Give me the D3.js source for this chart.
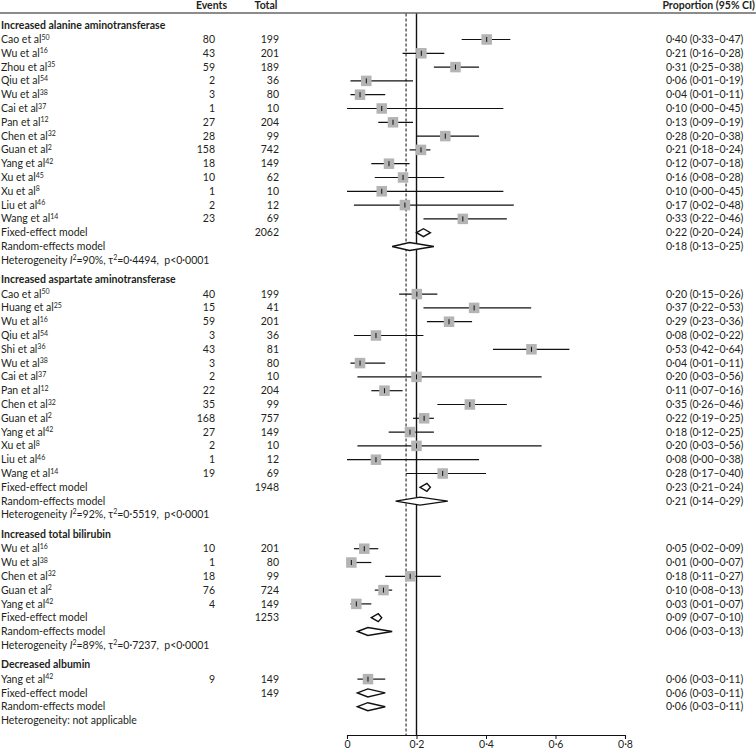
<!DOCTYPE html>
<html><head><meta charset="utf-8">
<script src="https://cdn.jsdelivr.net/npm/d3@7"></script>
<style>
body{margin:0;background:#fff;}
svg text{font-family:Lato,"Open Sans",sans-serif;fill:#231f20;}
</style></head><body>
<svg id="chart" width="756" height="752"></svg>
<script>
// ---------- data ----------
const groupNames = ["Increased alanine aminotransferase","Increased aspartate aminotransferase","Increased total bilirubin","Decreased albumin"];

const altStudies = [
 {study:"Cao et al",ref:"50",events:80,total:199,est:0.40,lo:0.33,hi:0.47},
 {study:"Wu et al",ref:"16",events:43,total:201,est:0.21,lo:0.16,hi:0.28},
 {study:"Zhou et al",ref:"35",events:59,total:189,est:0.31,lo:0.25,hi:0.38},
 {study:"Qiu et al",ref:"54",events:2,total:36,est:0.06,lo:0.01,hi:0.19},
 {study:"Wu et al",ref:"38",events:3,total:80,est:0.04,lo:0.01,hi:0.11},
 {study:"Cai et al",ref:"37",events:1,total:10,est:0.10,lo:0.00,hi:0.45},
 {study:"Pan et al",ref:"12",events:27,total:204,est:0.13,lo:0.09,hi:0.19},
 {study:"Chen et al",ref:"32",events:28,total:99,est:0.28,lo:0.20,hi:0.38},
 {study:"Guan et al",ref:"2",events:158,total:742,est:0.21,lo:0.18,hi:0.24},
 {study:"Yang et al",ref:"42",events:18,total:149,est:0.12,lo:0.07,hi:0.18},
 {study:"Xu et al",ref:"45",events:10,total:62,est:0.16,lo:0.08,hi:0.28},
 {study:"Xu et al",ref:"8",events:1,total:10,est:0.10,lo:0.00,hi:0.45},
 {study:"Liu et al",ref:"46",events:2,total:12,est:0.17,lo:0.02,hi:0.48},
 {study:"Wang et al",ref:"14",events:23,total:69,est:0.33,lo:0.22,hi:0.46}
];
const astStudies = [
 {study:"Cao et al",ref:"50",events:40,total:199,est:0.20,lo:0.15,hi:0.26},
 {study:"Huang et al",ref:"25",events:15,total:41,est:0.37,lo:0.22,hi:0.53},
 {study:"Wu et al",ref:"16",events:59,total:201,est:0.29,lo:0.23,hi:0.36},
 {study:"Qiu et al",ref:"54",events:3,total:36,est:0.08,lo:0.02,hi:0.22},
 {study:"Shi et al",ref:"36",events:43,total:81,est:0.53,lo:0.42,hi:0.64},
 {study:"Wu et al",ref:"38",events:3,total:80,est:0.04,lo:0.01,hi:0.11},
 {study:"Cai et al",ref:"37",events:2,total:10,est:0.20,lo:0.03,hi:0.56},
 {study:"Pan et al",ref:"12",events:22,total:204,est:0.11,lo:0.07,hi:0.16},
 {study:"Chen et al",ref:"32",events:35,total:99,est:0.35,lo:0.26,hi:0.46},
 {study:"Guan et al",ref:"2",events:168,total:757,est:0.22,lo:0.19,hi:0.25},
 {study:"Yang et al",ref:"42",events:27,total:149,est:0.18,lo:0.12,hi:0.25},
 {study:"Xu et al",ref:"8",events:2,total:10,est:0.20,lo:0.03,hi:0.56},
 {study:"Liu et al",ref:"46",events:1,total:12,est:0.08,lo:0.00,hi:0.38},
 {study:"Wang et al",ref:"14",events:19,total:69,est:0.28,lo:0.17,hi:0.40}
];
const tbilStudies = [
 {study:"Wu et al",ref:"16",events:10,total:201,est:0.05,lo:0.02,hi:0.09},
 {study:"Wu et al",ref:"38",events:1,total:80,est:0.01,lo:0.00,hi:0.07},
 {study:"Chen et al",ref:"32",events:18,total:99,est:0.18,lo:0.11,hi:0.27},
 {study:"Guan et al",ref:"2",events:76,total:724,est:0.10,lo:0.08,hi:0.13},
 {study:"Yang et al",ref:"42",events:4,total:149,est:0.03,lo:0.01,hi:0.07}
];
const albStudies = [
 {study:"Yang et al",ref:"42",events:9,total:149,est:0.06,lo:0.03,hi:0.11}
];
const groupStudies = [altStudies, astStudies, tbilStudies, albStudies];

const fixedTotals = [2062, 1948, 1253, 149];
const fixedEst = [[0.22,0.20,0.24],[0.23,0.21,0.24],[0.09,0.07,0.10],[0.06,0.03,0.11]];
const randomEst = [[0.18,0.13,0.25],[0.21,0.14,0.29],[0.06,0.03,0.13],[0.06,0.03,0.11]];
const hetI2 = [90, 92, 89, null];
const hetTau2 = ["0·4494","0·5519","0·7237", null];
const hetP = ["p<0·0001","p<0·0001","p<0·0001", null];

const xTicks = [0, 0.2, 0.4, 0.6, 0.8];
const solidRef = 0.2;
const dashedRef = 0.17;
const columnHeads = ["Events","Total","Proportion (95% CI)"];

// ---------- layout ----------
const svg = d3.select("#chart");
const fmt = v => d3.format(".2f")(v).replace(".", "·");

let idx = 0; const rows = [];
groupNames.forEach((g, gi) => {
  rows.push({type:"header", text:g, idx});
  idx += 1.05;
  groupStudies[gi].forEach(s => { rows.push(Object.assign({type:"study", idx}, s)); idx += 1; });
  rows.push({type:"fixed", total:fixedTotals[gi], est:fixedEst[gi][0], lo:fixedEst[gi][1], hi:fixedEst[gi][2], idx}); idx += 1;
  rows.push({type:"random", est:randomEst[gi][0], lo:randomEst[gi][1], hi:randomEst[gi][2], idx}); idx += 1;
  rows.push({type:"het", gi, idx}); idx += 1.4;
});
const axisIdx = idx - 1.4 + 1.05;

const y = d3.scaleLinear().domain([0, axisIdx]).range([25, 735]);
const x = d3.scaleLinear().domain([0, 0.8]).range([347, 625]);

const colLabel = 1, colEvents = 215, colTotal = 279, colProp = 666;
const fs = 10.5;

// header
svg.append("text").attr("x", 211.5).attr("y", 9).attr("text-anchor","middle").attr("font-size", fs).attr("font-weight",700).text(columnHeads[0]);
svg.append("text").attr("x", 266).attr("y", 9).attr("text-anchor","middle").attr("font-size", fs).attr("font-weight",700).text(columnHeads[1]);
svg.append("text").attr("x", 755).attr("y", 9).attr("text-anchor","end").attr("font-size", fs).attr("font-weight",700).text(columnHeads[2]);
svg.append("line").attr("x1",0).attr("x2",756).attr("y1",13).attr("y2",13).attr("stroke","#666").attr("stroke-width",1.5);

// reference lines
svg.append("line").attr("x1",x(dashedRef)).attr("x2",x(dashedRef)).attr("y1",13.5).attr("y2",735)
  .attr("stroke","#444").attr("stroke-width",1.3).attr("stroke-dasharray","3,2");
svg.append("line").attr("x1",x(solidRef)).attr("x2",x(solidRef)).attr("y1",13.5).attr("y2",735)
  .attr("stroke","#111").attr("stroke-width",1.4);

// axis
const axis = d3.axisBottom(x).tickValues(xTicks).tickSize(4).tickFormat(d => d === 0 ? "0" : d3.format(".1f")(d).replace(".", "·"));
const gAx = svg.append("g").attr("transform","translate(0,735)").call(axis);
gAx.select(".domain").attr("stroke","#111").attr("stroke-width",1.1);
gAx.selectAll(".tick line").attr("stroke","#111");
gAx.selectAll(".tick text").attr("font-size", fs).attr("font-family","Lato, sans-serif").attr("fill","#231f20").attr("dy","0.55em");

const textY = r => y(r.idx) + 3.6;

rows.forEach(r => {
  const ty = textY(r);
  if (r.type === "header") {
    svg.append("text").attr("x", colLabel).attr("y", ty).attr("font-size", fs).attr("font-weight",700).text(r.text);
    return;
  }
  if (r.type === "het") {
    const t = svg.append("text").attr("x", colLabel).attr("y", ty).attr("font-size", fs);
    if (hetI2[r.gi] === null) { t.text("Heterogeneity: not applicable"); return; }
    t.append("tspan").text("Heterogeneity ");
    t.append("tspan").attr("font-style","italic").text("I");
    t.append("tspan").attr("font-size",7).attr("dy",-4).text("2");
    t.append("tspan").attr("dy",4).text("=" + hetI2[r.gi] + "%, τ");
    t.append("tspan").attr("font-size",7).attr("dy",-4).text("2");
    t.append("tspan").attr("dy",4).text("=" + hetTau2[r.gi] + ",\u00a0\u00a0" + hetP[r.gi]);
    return;
  }
  // label
  const lab = svg.append("text").attr("x", colLabel).attr("y", ty).attr("font-size", fs);
  if (r.type === "study") {
    lab.append("tspan").text(r.study);
    lab.append("tspan").attr("font-size",7).attr("dy",-3.5).text(r.ref);
    svg.append("text").attr("x", colEvents).attr("y", ty).attr("text-anchor","end").attr("font-size", fs).text(r.events);
    svg.append("text").attr("x", colTotal).attr("y", ty).attr("text-anchor","end").attr("font-size", fs).text(r.total);
  } else if (r.type === "fixed") {
    lab.text("Fixed-effect model");
    svg.append("text").attr("x", colTotal).attr("y", ty).attr("text-anchor","end").attr("font-size", fs).text(r.total);
  } else {
    lab.text("Random-effects model");
  }
  svg.append("text").attr("x", colProp).attr("y", ty).attr("font-size", fs)
    .text(fmt(r.est) + " (" + fmt(r.lo) + "–" + fmt(r.hi) + ")");

  const cy = y(r.idx);
  if (r.type === "study") {
    const p = r.events / r.total;
    svg.append("line").attr("x1", x(r.lo)).attr("x2", x(r.hi)).attr("y1", cy).attr("y2", cy).attr("stroke","#111").attr("stroke-width",1.2);
    const s = 10.5;
    svg.append("rect").attr("x", x(p) - s/2).attr("y", cy - s/2).attr("width", s).attr("height", s).attr("fill","#b4b4b4");
    svg.append("line").attr("x1", x(p)).attr("x2", x(p)).attr("y1", cy - 2.5).attr("y2", cy + 2.5).attr("stroke","#111").attr("stroke-width",1);
  } else {
    const h = 4;
    const pts = [[x(r.lo), cy],[x(r.est), cy - h],[x(r.hi), cy],[x(r.est), cy + h]];
    svg.append("path").attr("d", "M" + pts.join("L") + "Z").attr("fill","#fff").attr("stroke","#111").attr("stroke-width",1.4);
  }
});
</script>
</body></html>
